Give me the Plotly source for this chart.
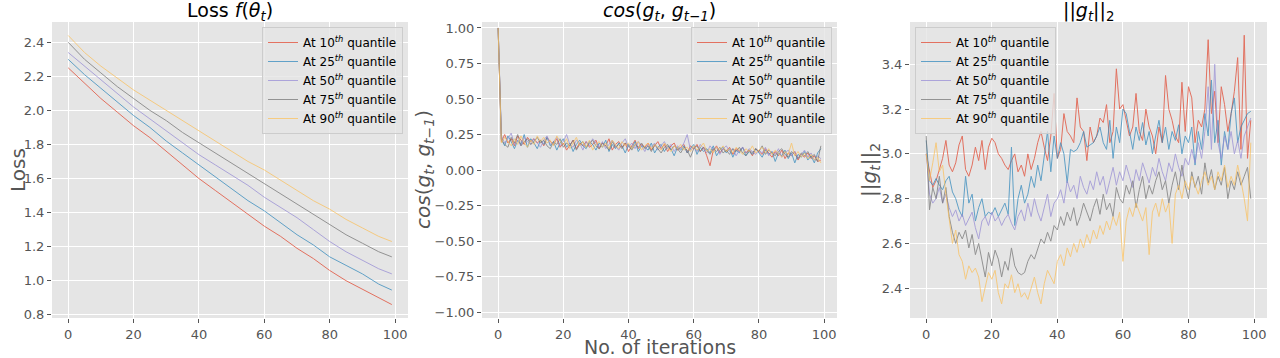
import plotly.graph_objects as go

# iteration index
iters = list(range(100))
loss_iters = [0, 5, 10, 15, 20, 25, 30, 35, 40, 45, 50, 55, 60, 65, 70, 75, 80, 85, 90, 95, 99]

labels = ["At 10<sup><i>th</i></sup> quantile", "At 25<sup><i>th</i></sup> quantile",
          "At 50<sup><i>th</i></sup> quantile", "At 75<sup><i>th</i></sup> quantile",
          "At 90<sup><i>th</i></sup> quantile"]
colors = ["#E24A33", "#348ABD", "#988ED5", "#777777", "#FBC15E"]

# loss f(theta_t), read every 5 iterations
loss_q10 = [2.25, 2.16, 2.07, 1.99, 1.91, 1.84, 1.76, 1.68, 1.60, 1.53, 1.46, 1.39, 1.32, 1.26, 1.19, 1.13, 1.06, 1.00, 0.95, 0.90, 0.86]
loss_q25 = [2.30, 2.21, 2.13, 2.05, 1.97, 1.90, 1.82, 1.75, 1.68, 1.61, 1.54, 1.47, 1.41, 1.34, 1.27, 1.21, 1.14, 1.09, 1.04, 0.98, 0.945]
loss_q50 = [2.34, 2.26, 2.18, 2.10, 2.02, 1.95, 1.88, 1.81, 1.74, 1.68, 1.62, 1.56, 1.49, 1.43, 1.37, 1.30, 1.23, 1.17, 1.12, 1.07, 1.04]
loss_q75 = [2.40, 2.30, 2.22, 2.14, 2.07, 2.00, 1.94, 1.87, 1.81, 1.75, 1.69, 1.63, 1.57, 1.51, 1.45, 1.39, 1.33, 1.27, 1.22, 1.17, 1.14]
loss_q90 = [2.44, 2.34, 2.26, 2.19, 2.12, 2.06, 2.00, 1.94, 1.88, 1.82, 1.76, 1.70, 1.65, 1.59, 1.53, 1.47, 1.42, 1.36, 1.31, 1.26, 1.23]

# cos(g_t, g_{t-1})
cos_q10 = [1.00, 0.20, 0.25, 0.19, 0.22, 0.17, 0.24, 0.21, 0.18, 0.23,
           0.20, 0.22, 0.19, 0.21, 0.17, 0.23, 0.20, 0.18, 0.22, 0.16,
           0.19, 0.14, 0.18, 0.21, 0.15, 0.19, 0.17, 0.20, 0.16, 0.18,
           0.21, 0.15, 0.19, 0.17, 0.22, 0.14, 0.18, 0.20, 0.16, 0.19,
           0.13, 0.17, 0.21, 0.15, 0.18, 0.16, 0.19, 0.14, 0.17, 0.20,
           0.15, 0.18, 0.13, 0.17, 0.19, 0.14, 0.16, 0.18, 0.12, 0.17,
           0.15, 0.18, 0.13, 0.16, 0.10, 0.03, 0.14, 0.17, 0.12, 0.15,
           0.13, 0.16, 0.11, 0.15, 0.13, 0.16, 0.12, 0.14, 0.10, 0.15,
           0.13, 0.11, 0.15, 0.12, 0.09, 0.13, 0.10, 0.14, 0.08, 0.12,
           0.10, 0.13, 0.07, 0.11, 0.09, 0.12, 0.08, 0.10, 0.06, 0.07]
cos_q25 = [1.00, 0.22, 0.17, 0.24, 0.20, 0.15, 0.21, 0.18, 0.25, 0.16,
           0.22, 0.19, 0.15, 0.21, 0.18, 0.23, 0.17, 0.20, 0.14, 0.19,
           0.22, 0.16, 0.19, 0.13, 0.18, 0.21, 0.17, 0.15, 0.20, 0.18,
           0.14, 0.19, 0.16, 0.21, 0.13, 0.18, 0.15, 0.19, 0.17, 0.12,
           0.18, 0.15, 0.20, 0.13, 0.17, 0.16, 0.14, 0.19, 0.12, 0.16,
           0.18, 0.13, 0.17, 0.15, 0.10, 0.16, 0.14, 0.17, 0.12, 0.15,
           0.18, 0.11, 0.16, 0.13, 0.15, 0.12, 0.17, 0.10, 0.14, 0.16,
           0.12, 0.15, 0.09, 0.14, 0.12, 0.16, 0.10, 0.13, 0.11, 0.15,
           0.12, 0.09, 0.14, 0.11, 0.13, 0.06, 0.12, 0.10, 0.14, 0.08,
           0.12, 0.05, 0.11, 0.09, 0.13, 0.07, 0.10, 0.05, 0.12, 0.15]
cos_q50 = [1.00, 0.24, 0.19, 0.22, 0.26, 0.18, 0.21, 0.17, 0.23, 0.20,
           0.18, 0.22, 0.19, 0.16, 0.21, 0.24, 0.18, 0.20, 0.23, 0.17,
           0.20, 0.25, 0.18, 0.16, 0.21, 0.19, 0.14, 0.20, 0.17, 0.22,
           0.19, 0.16, 0.20, 0.15, 0.18, 0.21, 0.17, 0.14, 0.19, 0.22,
           0.16, 0.19, 0.15, 0.20, 0.17, 0.13, 0.18, 0.16, 0.19, 0.14,
           0.17, 0.20, 0.15, 0.18, 0.13, 0.17, 0.15, 0.19, 0.25, 0.14,
           0.16, 0.13, 0.18, 0.15, 0.12, 0.17, 0.14, 0.16, 0.11, 0.15,
           0.17, 0.13, 0.15, 0.10, 0.14, 0.16, 0.12, 0.15, 0.13, 0.11,
           0.14, 0.12, 0.16, 0.10, 0.13, 0.11, 0.15, 0.09, 0.12, 0.14,
           0.10, 0.13, 0.08, 0.11, 0.14, 0.09, 0.12, 0.07, 0.10, 0.08]
cos_q75 = [1.00, 0.21, 0.18, 0.16, 0.23, 0.19, 0.25, 0.17, 0.20, 0.22,
           0.18, 0.20, 0.23, 0.19, 0.21, 0.17, 0.15, 0.20, 0.18, 0.22,
           0.16, 0.19, 0.17, 0.21, 0.14, 0.18, 0.20, 0.16, 0.19, 0.21,
           0.17, 0.15, 0.19, 0.17, 0.14, 0.20, 0.16, 0.18, 0.15, 0.19,
           0.17, 0.14, 0.18, 0.16, 0.19, 0.15, 0.17, 0.13, 0.18, 0.15,
           0.12, 0.16, 0.18, 0.14, 0.17, 0.15, 0.12, 0.16, 0.14, 0.09,
           0.15, 0.17, 0.13, 0.16, 0.14, 0.11, 0.15, 0.13, 0.16, 0.12,
           0.14, 0.11, 0.15, 0.13, 0.16, 0.12, 0.10, 0.14, 0.12, 0.15,
           0.13, 0.17, 0.11, 0.14, 0.12, 0.10, 0.13, 0.15, 0.11, 0.09,
           0.13, 0.11, 0.08, 0.12, 0.10, 0.13, 0.09, 0.11, 0.06, 0.17]
cos_q90 = [1.00, 0.19, 0.23, 0.20, 0.17, 0.22, 0.18, 0.24, 0.19, 0.16,
           0.21, 0.18, 0.24, 0.20, 0.23, 0.19, 0.21, 0.17, 0.24, 0.20,
           0.18, 0.22, 0.15, 0.19, 0.23, 0.17, 0.20, 0.16, 0.21, 0.14,
           0.18, 0.20, 0.16, 0.19, 0.15, 0.21, 0.18, 0.15, 0.20, 0.17,
           0.19, 0.15, 0.18, 0.20, 0.14, 0.17, 0.19, 0.15, 0.18, 0.16,
           0.14, 0.19, 0.16, 0.13, 0.17, 0.15, 0.18, 0.14, 0.16, 0.13,
           0.17, 0.14, 0.16, 0.19, 0.13, 0.15, 0.12, 0.16, 0.14, 0.17,
           0.13, 0.15, 0.12, 0.16, 0.14, 0.11, 0.15, 0.13, 0.17, 0.12,
           0.14, 0.16, 0.12, 0.15, 0.11, 0.14, 0.12, 0.09, 0.13, 0.11,
           0.19, 0.10, 0.13, 0.09, 0.12, 0.08, 0.11, 0.07, 0.09, 0.05]

# ||g_t||_2
norm_q10 = [3.00, 2.92, 2.85, 2.88, 2.93, 2.98, 3.06, 2.95, 2.92, 2.96,
            3.04, 3.08, 2.93, 2.90, 2.95, 3.03, 2.97, 3.06, 2.93, 3.03,
            3.07, 3.05, 3.00, 2.98, 2.95, 2.93, 2.97, 3.00, 2.92, 2.95,
            2.90, 3.00, 2.93, 2.98, 3.05, 3.10, 3.03, 2.97, 3.08, 3.27,
            2.98, 3.02, 3.18, 3.10, 3.08, 3.05, 3.25, 3.12, 3.10, 2.97,
            3.12, 3.05, 3.08, 3.16, 3.14, 3.22, 3.05, 3.10, 3.38, 3.20,
            3.22, 3.15, 3.08, 3.12, 3.27, 3.10, 3.06, 3.20, 3.12, 3.08,
            3.00, 3.12, 3.05, 3.35, 3.20, 3.15, 3.08, 3.05, 3.32, 3.10,
            3.30, 3.25, 3.05, 3.15, 3.12, 3.20, 3.51, 3.18, 3.28, 3.05,
            3.30, 3.22, 3.10, 3.18, 3.28, 3.43, 3.02, 3.53, 2.98, 3.15]
norm_q25 = [3.06, 2.88, 2.86, 2.89, 2.86, 2.84, 2.88, 2.90, 2.83, 2.80,
            2.75, 2.72, 2.90, 2.78, 2.82, 2.70, 2.76, 2.80, 2.72, 2.74,
            2.73, 2.76, 2.72, 2.75, 2.78, 2.73, 3.03, 2.68, 2.80, 2.86,
            2.78, 2.82, 2.90, 2.85, 2.95, 2.88, 3.00, 3.10, 2.92, 3.08,
            2.98, 3.05, 3.00, 2.87, 3.02, 3.01, 3.02, 3.05, 3.10, 3.03,
            3.04, 3.05, 3.08, 3.12, 3.05, 3.02, 3.15, 2.98, 3.12, 3.05,
            3.20, 3.18, 3.10, 3.02, 3.12, 3.06, 3.14, 3.04, 3.10, 3.00,
            3.08, 3.15, 3.05, 3.12, 3.02, 3.10, 3.06, 3.13, 3.00, 3.08,
            3.05, 3.12, 2.95, 3.10, 3.02, 3.18, 3.08, 3.33, 3.05, 3.15,
            2.95, 3.10, 3.02, 3.18, 3.25, 3.05, 3.12, 3.15, 3.18, 3.19]
norm_q50 = [3.00, 2.82, 2.78, 2.80, 2.85, 2.78, 2.82, 2.76, 2.72, 2.75,
            2.70, 2.73, 2.68, 2.71, 2.74, 2.67, 2.62, 2.70, 2.72, 2.68,
            2.74, 2.70, 2.72, 2.68, 2.71, 2.73, 2.69, 2.66, 2.72, 2.75,
            2.70, 2.78, 2.72, 2.80, 2.74, 2.70, 2.76, 2.82, 2.72, 2.78,
            2.80, 2.84, 2.78, 2.88, 2.83, 2.86, 2.80, 2.90, 2.85, 2.82,
            2.88, 2.84, 2.92, 2.86, 2.90, 2.82, 2.88, 2.94, 2.86, 2.92,
            2.88, 2.95, 2.90, 2.85, 2.93, 2.88, 2.96, 2.91, 2.87, 2.94,
            2.90, 2.98, 2.92, 2.88, 2.96, 2.92, 3.00, 2.94, 2.90, 2.98,
            2.95, 3.02, 2.96, 3.05, 2.98, 3.10, 3.30, 3.02, 3.40, 3.05,
            2.98, 3.08, 3.02, 3.10, 3.00, 3.06, 2.98, 3.08, 3.12, 3.16]
norm_q75 = [3.08, 2.75, 2.85, 2.80, 2.90, 2.78, 2.85, 2.72, 2.65, 2.60,
            2.65, 2.62, 2.66, 2.58, 2.64, 2.55, 2.60, 2.52, 2.45, 2.56,
            2.50, 2.57, 2.53, 2.45, 2.52, 2.48, 2.58, 2.50, 2.47, 2.46,
            2.47, 2.52, 2.55, 2.53, 2.58, 2.62, 2.60, 2.65, 2.61, 2.68,
            2.66, 2.72, 2.68, 2.74, 2.70, 2.76, 2.68, 2.72, 2.78, 2.74,
            2.70, 2.76, 2.80, 2.73, 2.82, 2.75, 2.78, 2.72, 2.85, 2.80,
            2.78, 2.86, 2.82, 2.88, 2.76, 2.84, 2.90, 2.80, 2.86, 2.82,
            2.88, 2.92, 2.84, 2.88, 2.78, 2.86, 2.92, 2.84, 2.95, 2.86,
            2.80, 2.92, 2.85, 2.90, 2.82, 2.96, 2.87, 2.93, 2.84, 2.90,
            2.86, 2.94, 2.80, 2.88, 2.84, 2.92, 2.86, 2.90, 2.94, 2.80]
norm_q90 = [3.00, 2.88, 2.96, 3.05, 2.92, 2.95, 2.82, 2.72, 2.60, 2.66,
            2.55, 2.52, 2.44, 2.50, 2.47, 2.49, 2.45, 2.34, 2.40, 2.47,
            2.44, 2.48, 2.38, 2.33, 2.42, 2.40, 2.46, 2.38, 2.42, 2.36,
            2.38, 2.35, 2.40, 2.45, 2.38, 2.33, 2.42, 2.48, 2.45, 2.42,
            2.52, 2.55, 2.50, 2.58, 2.54, 2.60, 2.56, 2.62, 2.58, 2.64,
            2.60, 2.66, 2.62, 2.68, 2.64, 2.70, 2.66, 2.72, 2.68, 2.74,
            2.52, 2.70, 2.76, 2.72, 2.78, 2.74, 2.70, 2.76, 2.55, 2.74,
            2.78, 2.72, 2.80, 2.74, 2.78, 2.60, 2.82, 2.86, 2.80, 2.88,
            2.84, 2.90, 2.86, 2.82, 2.88, 2.92, 2.86, 2.90, 2.84, 2.92,
            2.88, 2.95, 2.85, 2.90, 2.86, 2.95, 2.88, 2.80, 2.70, 3.05]

loss_series = [loss_q10, loss_q25, loss_q50, loss_q75, loss_q90]
cos_series = [cos_q10, cos_q25, cos_q50, cos_q75, cos_q90]
norm_series = [norm_q10, norm_q25, norm_q50, norm_q75, norm_q90]

FONT = "DejaVu Sans"
BG = "#E5E5E5"
W, H = 1280, 358


def px(x):
    return x / W


def py(y):
    return (H - y) / H


fig = go.Figure()

panels = [
    (loss_iters, loss_series, "x", "y", "legend"),
    (iters, cos_series, "x2", "y2", "legend2"),
    (iters, norm_series, "x3", "y3", "legend3"),
]
for xs, series, xa, ya, lg in panels:
    for ys, name, col in zip(series, labels, colors):
        fig.add_trace(go.Scatter(x=xs, y=ys, mode="lines", name=name,
                                 line=dict(color=col, width=1), opacity=0.75,
                                 xaxis=xa, yaxis=ya, legend=lg))

domains = [[px(52), px(408)], [px(482), px(837)], [px(910), px(1267)]]
ydom = [py(318), py(22)]

axis_common = dict(showgrid=True, gridcolor="white", gridwidth=1, zeroline=False,
                   showline=False, ticks="outside", ticklen=4, tickcolor="#555555",
                   tickfont=dict(family=FONT, size=13, color="#555555"),
                   automargin=False)

for i, dom in enumerate(domains):
    sfx = "" if i == 0 else str(i + 1)
    fig.layout["xaxis" + sfx] = dict(domain=dom, anchor="y" + sfx, range=[-4.95, 103.95],
                                     tickvals=[0, 20, 40, 60, 80, 100], **axis_common)

fig.layout["yaxis"] = dict(domain=ydom, anchor="x", range=[0.781, 2.519],
                           tickvals=[0.8, 1.0, 1.2, 1.4, 1.6, 1.8, 2.0, 2.2, 2.4], tickformat=".1f",
                           **axis_common)
fig.layout["yaxis2"] = dict(domain=ydom, anchor="x2", range=[-1.042, 1.042],
                            tickvals=[-1, -0.75, -0.5, -0.25, 0, 0.25, 0.5, 0.75, 1], tickformat=".2f",
                            **axis_common)
fig.layout["yaxis3"] = dict(domain=ydom, anchor="x3", range=[2.267, 3.589],
                            tickvals=[2.4, 2.6, 2.8, 3.0, 3.2, 3.4], tickformat=".1f",
                            **axis_common)

label_font = dict(family=FONT, size=20, color="#555555")
ycenter = (ydom[0] + ydom[1]) / 2
# y axis labels
for xpix, t in [(18, "Loss"),
                (424, "<i>cos</i>(<i>g<sub>t</sub></i>, <i>g<sub>t−1</sub></i>)"),
                (870, "||<i>g<sub>t</sub></i>||<sub>2</sub>")]:
    fig.add_annotation(text=t, xref="paper", yref="paper", x=px(xpix), y=ycenter,
                       xanchor="center", yanchor="middle", textangle=-90, showarrow=False,
                       font=label_font)
# x axis label
fig.add_annotation(text="No. of iterations", xref="paper", yref="paper",
                   x=(domains[1][0] + domains[1][1]) / 2, y=py(347),
                   xanchor="center", yanchor="middle", showarrow=False,
                   font=dict(family=FONT, size=19, color="#555555"))

titles = ["Loss <i>f</i>(<i>θ<sub>t</sub></i>)",
          "<i>cos</i>(<i>g<sub>t</sub></i>, <i>g<sub>t−1</sub></i>)",
          "||<i>g<sub>t</sub></i>||<sub>2</sub>"]
for dom, t in zip(domains, titles):
    fig.add_annotation(text=t, xref="paper", yref="paper", x=(dom[0] + dom[1]) / 2, y=py(12),
                       xanchor="center", yanchor="middle", showarrow=False,
                       font=dict(family=FONT, size=19, color="black"))

legend_common = dict(bgcolor="rgba(229,229,229,0.8)", bordercolor="#CCCCCC", borderwidth=1,
                     font=dict(family=FONT, size=12, color="black"), tracegroupgap=0,
                     yanchor="top", y=py(27))
fig.update_layout(
    legend=dict(x=px(403), xanchor="right", **legend_common),
    legend2=dict(x=px(832), xanchor="right", **legend_common),
    legend3=dict(x=px(915), xanchor="left", **legend_common),
    width=W, height=H, margin=dict(l=0, r=0, t=0, b=0),
    paper_bgcolor="white", plot_bgcolor=BG, showlegend=True,
    font=dict(family=FONT),
)

# drop the default page margin so the figure sits at the window's corner
fig.write_html("out.html", config={"displayModeBar": False},
               post_script="document.body.style.margin = '0';")
